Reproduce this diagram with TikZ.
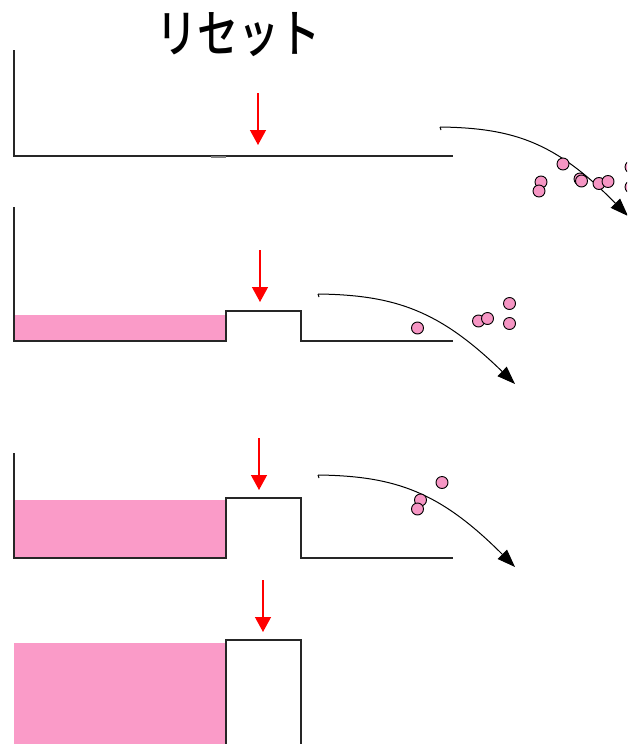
\documentclass[tikz,border=0pt]{standalone}
\usepackage{fontspec}
\newfontfamily\cjk{Noto Sans CJK JP Medium}
\usetikzlibrary{arrows.meta}
\definecolor{fillpink}{RGB}{250,155,200}
\definecolor{dotpink}{RGB}{246,150,196}
\tikzset{
  wall/.style={line width=1.2pt, black!85},
  pinkfill/.style={fill=fillpink, draw=none},
  push/.style={red, line width=1.3pt, -{Triangle[width=16pt,length=15pt]}},
  flow/.style={black, line width=1pt, -{Triangle[width=13pt,length=18pt]}},
  ball/.style={circle, draw=black, line width=0.9pt, fill=dotpink, minimum size=12pt, inner sep=0pt}
}
\begin{document}
\begin{tikzpicture}[x=1pt,y=-1pt]
\useasboundingbox (0,0) rectangle (627,744);
\clip (0,0) rectangle (627,744);

% title
\node (title) at (238,35) {\scalebox{1}[1.25]{\cjk\fontsize{41}{41}\selectfont リセット}};

% ---- stage 1: empty ----
\draw[wall] (14,50) -- (14,156) -- (453,156);
\draw[gray, line width=1.2pt] (211,157) -- (226,157);
\coordinate (p1a) at (258,93); \coordinate (p1b) at (258,145);
\draw[push] (p1a) -- (p1b);
\coordinate (f1a) at (440,127); \coordinate (f1b) at (628,216);
\draw[flow] (f1a) .. controls (515,128) and (556,143) .. (f1b);
\draw[line width=1pt] (f1a) -- (441,130);
\foreach \n/\x/\y in {a/563/164,b/541/182,c/539/191,d/580/179,e/581.5/181,f/599/183.5,g/608/181.5,h/631/167,i/631/187}
  \node[ball] (b1\n) at (\x,\y) {};

% ---- stage 2 ----
\fill[pinkfill] (14,315) rectangle (226,341);
\draw[wall] (14,207) -- (14,341) -- (226,341) -- (226,311) -- (301,311) -- (301,341) -- (453,341);
\coordinate (p2a) at (260,250); \coordinate (p2b) at (260,302);
\draw[push] (p2a) -- (p2b);
\coordinate (f2a) at (318,294); \coordinate (f2b) at (515,384);
\draw[flow] (f2a) .. controls (396,295) and (440,311) .. (f2b);
\draw[line width=1pt] (f2a) -- (319,297);
\foreach \n/\x/\y in {a/417.5/328,b/478.5/321,c/487.5/318.5,d/509.5/303.5,e/509.5/323.5}
  \node[ball] (b2\n) at (\x,\y) {};

% ---- stage 3 ----
\fill[pinkfill] (14,500) rectangle (226,558);
\draw[wall] (14,453) -- (14,558) -- (226,558) -- (226,498) -- (301,498) -- (301,558) -- (453,558);
\coordinate (p3a) at (259,438); \coordinate (p3b) at (259,490);
\draw[push] (p3a) -- (p3b);
\coordinate (f3a) at (318,475); \coordinate (f3b) at (515,567);
\draw[flow] (f3a) .. controls (396,476) and (440,492) .. (f3b);
\draw[line width=1pt] (f3a) -- (319,478);
\foreach \n/\x/\y in {a/442/482.5,b/420.5/500,c/417.5/509}
  \node[ball] (b3\n) at (\x,\y) {};

% ---- stage 4: full ----
\fill[pinkfill] (14,643) rectangle (226,745);
\draw[wall] (226,746) -- (226,640) -- (301,640) -- (301,746);
\coordinate (p4a) at (263,580); \coordinate (p4b) at (263,632);
\draw[push] (p4a) -- (p4b);
\end{tikzpicture}
\end{document}
